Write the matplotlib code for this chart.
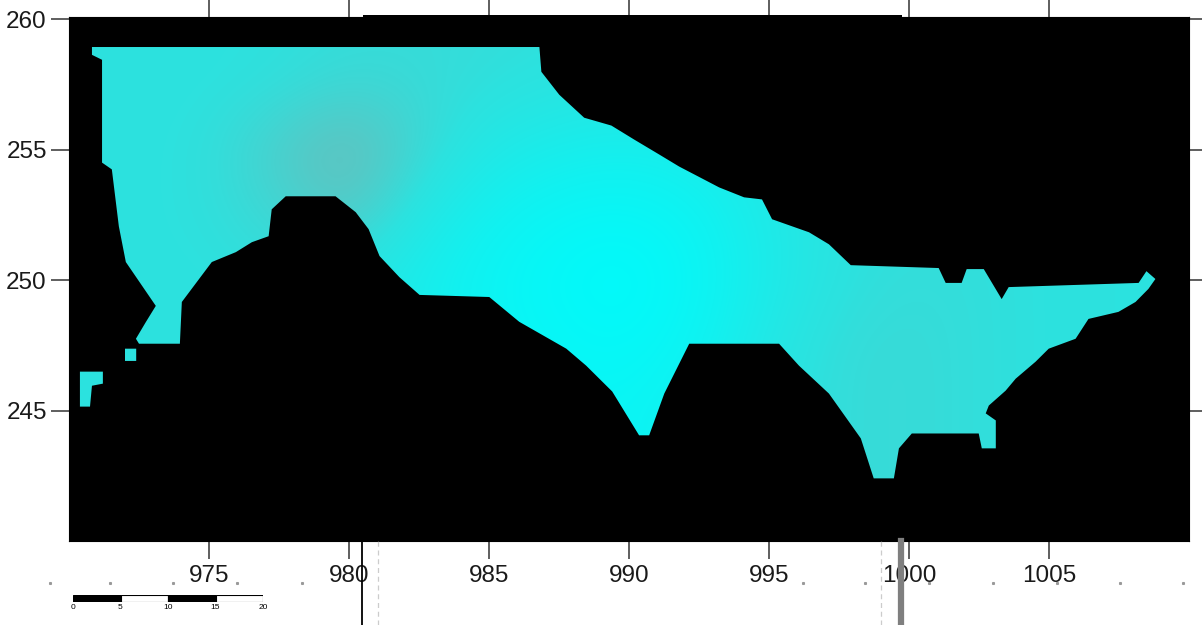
import numpy as np
import matplotlib
matplotlib.use("Agg")
import matplotlib.pyplot as plt
from matplotlib.path import Path
from matplotlib.patches import PathPatch, Rectangle
from matplotlib.colors import LinearSegmentedColormap

plt.rcParams['font.family'] = ['Liberation Sans', 'DejaVu Sans']

# ---- data ----
x_ticks = [975, 980, 985, 990, 995, 1000, 1005]
y_ticks = [245, 250, 255, 260]

# main raster outline (data coordinates)
main_x = [970.82, 986.80, 986.87, 987.51, 988.40, 989.37, 990.19, 991.08, 991.79, 993.22,
          994.11, 994.75, 995.11, 996.43, 997.14, 997.92, 1001.06, 1001.31, 1001.88, 1002.06,
          1002.67, 1003.31, 1003.56, 1008.20, 1008.48, 1008.80, 1008.55, 1008.09, 1007.48, 1006.41,
          1005.95, 1004.99, 1004.52, 1003.81, 1003.45, 1002.85, 1002.74, 1003.10, 1003.10, 1002.60,
          1002.49, 1000.10, 999.64, 999.46, 998.74, 998.28, 997.14, 996.07, 995.36, 992.15,
          991.26, 990.72, 990.36, 989.40, 988.47, 987.76, 986.08, 985.01, 982.52, 981.80,
          981.09, 980.70, 980.24, 979.52, 977.74, 977.24, 977.13, 976.53, 975.96, 975.10,
          974.03, 973.96, 972.50, 972.39, 972.75, 973.10, 972.03, 971.78, 971.53, 971.18,
          971.18, 970.82]
main_y = [258.93, 258.93, 257.98, 257.10, 256.22, 255.92, 255.38, 254.81, 254.35, 253.55,
          253.17, 253.09, 252.33, 251.83, 251.37, 250.57, 250.46, 249.89, 249.89, 250.42,
          250.42, 249.27, 249.73, 249.89, 250.34, 250.04, 249.66, 249.16, 248.78, 248.51,
          247.75, 247.37, 246.87, 246.22, 245.76, 245.19, 244.89, 244.62, 243.55, 243.55,
          244.12, 244.12, 243.55, 242.40, 242.40, 243.93, 245.65, 246.72, 247.56, 247.56,
          245.65, 244.05, 244.05, 245.73, 246.72, 247.37, 248.40, 249.35, 249.43, 250.11,
          250.92, 251.95, 252.60, 253.21, 253.21, 252.71, 251.68, 251.45, 251.07, 250.69,
          249.16, 247.56, 247.56, 247.75, 248.40, 249.01, 250.69, 252.06, 254.24, 254.50,
          258.44, 258.63]

# small detached cells
island_x = [970.39, 971.21, 971.21, 970.82, 970.75, 970.39]
island_y = [246.49, 246.49, 246.03, 245.95, 245.15, 245.15]
dot_x = [972.00, 972.40, 972.40, 972.00]
dot_y = [247.37, 247.37, 246.90, 246.90]

# surface values on a coarse grid (rows from y=260 down to y=240, cols x=970..1010)
grid_x = np.arange(970, 1010.1, 2.5)
grid_y = np.arange(260, 239.9, -2.5)
values = np.array([
    [.50, .50, .50, .48, .45, .44, .45, .47, .49, .50, .50, .50, .50, .50, .50, .50, .50],
    [.50, .50, .50, .48, .40, .42, .47, .52, .56, .55, .50, .50, .50, .50, .50, .50, .50],
    [.50, .50, .48, .28, .08, .38, .62, .72, .76, .70, .60, .50, .48, .50, .50, .50, .50],
    [.50, .50, .48, .38, .22, .58, .80, .90, .93, .85, .65, .52, .47, .48, .50, .50, .50],
    [.50, .50, .50, .48, .55, .74, .88, .96, 1.0, .90, .68, .50, .44, .46, .50, .50, .50],
    [.50, .50, .50, .50, .55, .70, .84, .92, .95, .85, .60, .44, .42, .46, .50, .50, .50],
    [.50, .50, .50, .50, .55, .68, .80, .88, .88, .78, .55, .44, .42, .46, .50, .50, .50],
    [.50, .50, .50, .50, .55, .68, .80, .88, .88, .78, .55, .44, .42, .46, .50, .50, .50],
    [.50, .50, .50, .50, .55, .68, .80, .88, .88, .78, .55, .44, .42, .46, .50, .50, .50],
])

scale_labels = ["0", "5", "10", "15", "20"]
scale_vals = [0, 5, 10, 15, 20]

# ---- figure ----
fig = plt.figure(figsize=(12.02, 6.25), dpi=100)
ax = fig.add_axes([69/1202, 1 - 541/625, 1120/1202, 524/625])
ax.set_facecolor('black')

cmap = LinearSegmentedColormap.from_list(
    'cy', [(0.0, '#7ab3b0'), (0.5, '#2ce2df'), (1.0, '#00fbfb')])
dx = (grid_x[1] - grid_x[0]) / 2
dy = abs(grid_y[1] - grid_y[0]) / 2
im = ax.imshow(values, cmap=cmap, vmin=0, vmax=1, origin='upper',
               extent=(grid_x[0] - dx, grid_x[-1] + dx, grid_y[-1] - dy, grid_y[0] + dy),
               interpolation='bicubic', aspect='auto', zorder=1)

def ring(xs, ys):
    v = np.column_stack([xs, ys])
    v = np.vstack([v, v[:1]])
    codes = [Path.MOVETO] + [Path.LINETO] * (len(v) - 2) + [Path.CLOSEPOLY]
    return Path(v, codes)

clip = Path.make_compound_path(ring(main_x, main_y), ring(island_x, island_y), ring(dot_x, dot_y))
patch = PathPatch(clip, facecolor='none', edgecolor='none', transform=ax.transData)
ax.add_patch(patch)
im.set_clip_path(patch)

ax.set_xlim(970, 1010)
ax.set_ylim(240, 260.08)
ax.set_xticks(x_ticks)
ax.set_yticks(y_ticks)
ax.tick_params(which='both', direction='out', top=True, right=True,
               labeltop=False, labelright=False, length=13, width=1.1,
               color='#333333', labelsize=17.5, labelcolor='#1a1a1a')
ax.tick_params(axis='y', pad=3)
ax.tick_params(axis='x', pad=4)
for s in ax.spines.values():
    s.set_color('black')

# overlay lines below the map
fig.add_artist(plt.Line2D([362/1202, 362/1202], [0, 1 - 541/625], color='black', lw=1.3))
fig.add_artist(plt.Line2D([378/1202, 378/1202], [0, 1 - 541/625], color='#cccccc', lw=0.9, ls=(0, (4, 3))))
fig.add_artist(plt.Line2D([881/1202, 881/1202], [0, 1 - 541/625], color='#cccccc', lw=0.9, ls=(0, (4, 3))))
fig.add_artist(plt.Line2D([901/1202, 901/1202], [0, 1 - 541/625], color='#7f7f7f', lw=4.5))
fig.add_artist(Rectangle((363/1202, 1 - 18/625), (902 - 363)/1202, 3/625,
                         transform=fig.transFigure, facecolor='black', edgecolor='none'))

# faint grid dots
dot_px = [50, 110, 173, 237, 302, 803, 865, 929, 993, 1057, 1120, 1183]
fig.add_artist(plt.Line2D([p/1202 for p in dot_px], [1 - 583/625] * len(dot_px),
                          ls='none', marker='s', ms=1.2, color='#999999'))

# scale bar
sax = fig.add_axes([73/1202, 1 - 602/625, 190/1202, 7/625])
for i in range(4):
    sax.add_patch(Rectangle((scale_vals[i], 0), 5, 1,
                            facecolor='black' if i % 2 == 0 else 'white',
                            edgecolor='black', lw=0.8))
sax.set_xlim(0, 20)
sax.set_ylim(0, 1)
sax.set_xticks(scale_vals)
sax.set_xticklabels(scale_labels)
sax.set_yticks([])
sax.tick_params(axis='x', length=0, labelsize=6, pad=1.5)
for s in sax.spines.values():
    s.set_visible(False)

fig.savefig('out.png', dpi=100)
